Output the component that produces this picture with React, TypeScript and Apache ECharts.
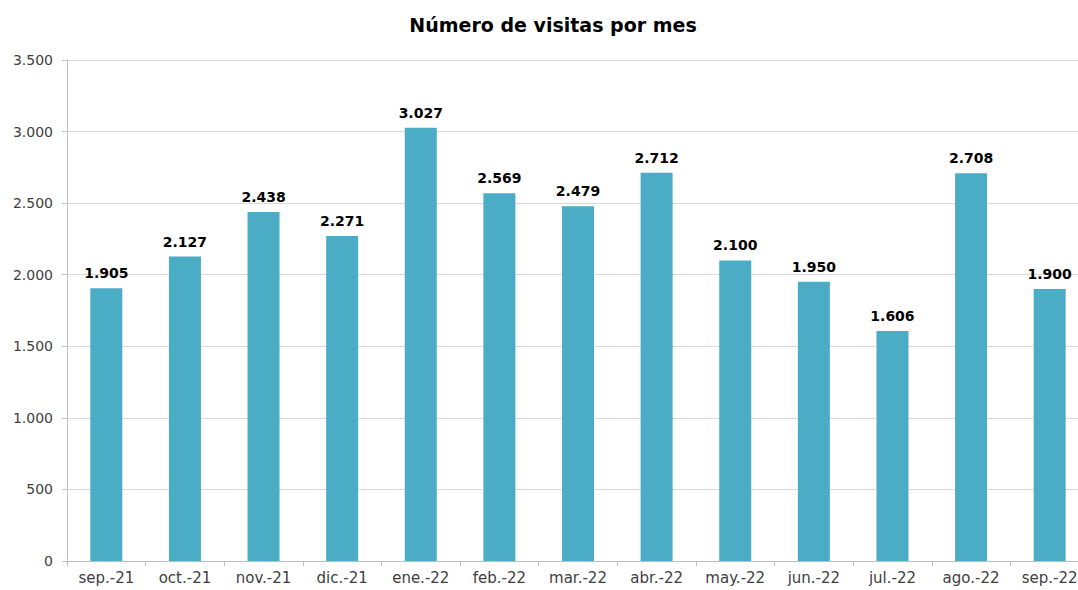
import React, { useEffect, useRef } from "react";
import * as echarts from "echarts";

const categories = ["sep.-21", "oct.-21", "nov.-21", "dic.-21", "ene.-22", "feb.-22", "mar.-22", "abr.-22", "may.-22", "jun.-22", "jul.-22", "ago.-22", "sep.-22"];
const visitas = [1905, 2127, 2438, 2271, 3027, 2569, 2479, 2712, 2100, 1950, 1606, 2708, 1900];
const titleText = "Número de visitas por mes";

const fmt = (v: number) => String(v).replace(/\B(?=(\d{3})+(?!\d))/g, ".");

export default function App() {
  const ref = useRef<HTMLDivElement>(null);
  useEffect(() => {
    if (!ref.current) return;
    const chart = echarts.init(ref.current, undefined, { renderer: "svg" });
    chart.setOption({
      animation: false,
      backgroundColor: "#ffffff",
      title: {
        text: titleText,
        left: 548,
        textAlign: "center",
        top: 10,
        textStyle: { fontFamily: "DejaVu Sans", fontWeight: "bold", fontSize: 19, color: "#000000" },
      },
      grid: { left: 67, top: 60, bottom: 29, right: 0, containLabel: false },
      xAxis: {
        type: "category",
        data: categories,
        axisLine: { lineStyle: { color: "#bfbfbf" } },
        axisTick: { show: true, alignWithLabel: false, length: 5, lineStyle: { color: "#bfbfbf" } },
        axisLabel: { fontFamily: "DejaVu Sans", fontSize: 15, color: "#404040", margin: 9, interval: 0 },
      },
      yAxis: {
        type: "value",
        min: 0,
        max: 3500,
        interval: 500,
        axisLine: { show: true, lineStyle: { color: "#bfbfbf" } },
        axisTick: { show: true, length: 5, lineStyle: { color: "#bfbfbf" } },
        splitLine: { lineStyle: { color: "#d9d9d9" } },
        axisLabel: { fontFamily: "DejaVu Sans", fontSize: 14, color: "#404040", margin: 14, formatter: (v: number) => fmt(v) },
      },
      series: [
        {
          type: "bar",
          data: visitas,
          barWidth: 32,
          itemStyle: { color: "#4bacc6" },
          label: {
            show: true,
            position: "top",
            distance: 8,
            fontFamily: "DejaVu Sans",
            fontWeight: "bold",
            fontSize: 14,
            color: "#000000",
            formatter: (p: any) => fmt(p.value),
          },
        },
      ],
    });
    return () => chart.dispose();
  }, []);
  return (
    <div style={{ position: "fixed", left: 0, top: 0, width: 1078, height: 590, overflow: "hidden", background: "#fff" }}>
      <div ref={ref} style={{ width: 1089, height: 590 }} />
    </div>
  );
}
